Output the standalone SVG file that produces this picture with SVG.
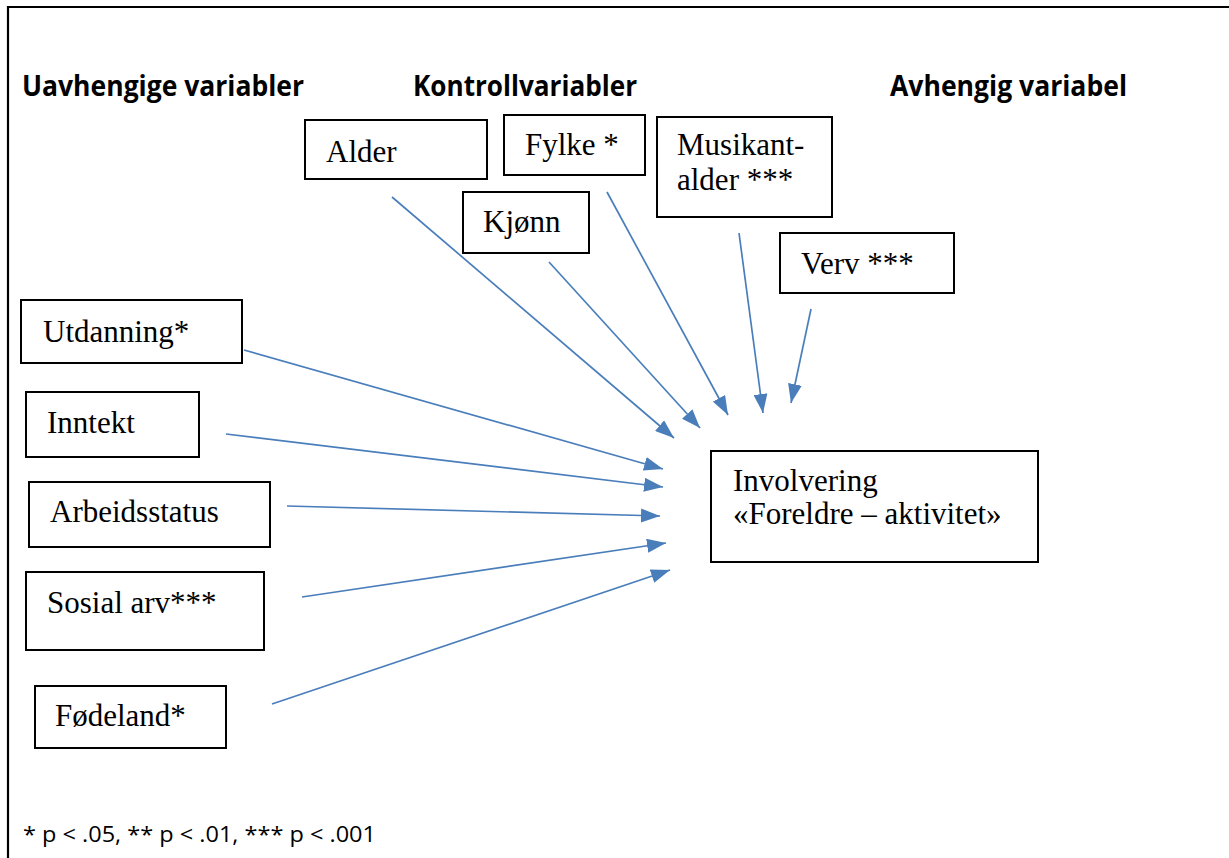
<svg xmlns="http://www.w3.org/2000/svg" width="1229" height="858" viewBox="0 0 1229 858">
<style>
.box{fill:#fff;stroke:#000;stroke-width:2}
.t{font-family:"Liberation Serif","Times New Roman",serif;font-size:31px;fill:#000}
.h{font-family:"Open Sans","Liberation Sans",sans-serif;font-weight:bold;font-size:28px;fill:#000}
.fn{font-family:"Open Sans","Liberation Sans",sans-serif;font-size:21px;fill:#000}
.c{stroke:#4a7ebb;stroke-width:1.7;fill:none;marker-end:url(#ah)}
</style>
<defs>
<marker id="ah" markerUnits="userSpaceOnUse" markerWidth="20" markerHeight="14" viewBox="0 0 20 14" refX="19" refY="7" orient="auto">
<path d="M0,0 L19,7 L0,14 Z" fill="#4a7ebb"/>
</marker>
</defs>
<rect x="0" y="0" width="1229" height="858" fill="#fff"/>
<g id="frame">
<path d="M8,858 L8,7 L1229,7" fill="none" stroke="#000" stroke-width="2.2"/>
</g>
<g id="headers">
<text class="h" x="22" y="96" textLength="282" lengthAdjust="spacingAndGlyphs">Uavhengige variabler</text>
<text class="h" x="413" y="96" textLength="224" lengthAdjust="spacingAndGlyphs">Kontrollvariabler</text>
<text class="h" x="890" y="96" textLength="237" lengthAdjust="spacingAndGlyphs">Avhengig variabel</text>
</g>
<g id="connectors">
<line class="c" x1="244" y1="350" x2="663" y2="469"/>
<line class="c" x1="226" y1="434" x2="663" y2="487"/>
<line class="c" x1="287" y1="506" x2="660" y2="516"/>
<line class="c" x1="302" y1="597" x2="666" y2="543"/>
<line class="c" x1="272" y1="704" x2="670" y2="570"/>
<line class="c" x1="392" y1="197" x2="674" y2="438"/>
<line class="c" x1="549" y1="262" x2="700" y2="428"/>
<line class="c" x1="607" y1="192" x2="728" y2="415"/>
<line class="c" x1="739" y1="233" x2="763" y2="413"/>
<line class="c" x1="811" y1="309" x2="791" y2="403"/>
</g>
<g id="alder"><rect class="box" x="305" y="120" width="182" height="59"/><text class="t" x="326" y="162">Alder</text></g>
<g id="fylke"><rect class="box" x="504" y="115" width="141" height="60"/><text class="t" x="525" y="155">Fylke *</text></g>
<g id="kjonn"><rect class="box" x="463" y="192" width="126" height="61"/><text class="t" x="483" y="232">Kjønn</text></g>
<g id="musikantalder"><rect class="box" x="657" y="117" width="175" height="100"/><text class="t" x="677" y="155">Musikant-</text><text class="t" x="677" y="190">alder ***</text></g>
<g id="verv"><rect class="box" x="780" y="233" width="174" height="60"/><text class="t" x="801" y="274">Verv ***</text></g>
<g id="utdanning"><rect class="box" x="21" y="300" width="221" height="63"/><text class="t" x="43" y="342">Utdanning*</text></g>
<g id="inntekt"><rect class="box" x="26" y="392" width="173" height="65"/><text class="t" x="47" y="433">Inntekt</text></g>
<g id="arbeidsstatus"><rect class="box" x="29" y="482" width="241" height="65"/><text class="t" x="50" y="522">Arbeidsstatus</text></g>
<g id="sosialarv"><rect class="box" x="26" y="572" width="238" height="78"/><text class="t" x="47" y="613">Sosial arv***</text></g>
<g id="fodeland"><rect class="box" x="35" y="686" width="191" height="62"/><text class="t" x="55" y="726">Fødeland*</text></g>
<g id="involvering"><rect class="box" x="711" y="451" width="327" height="111"/><text class="t" x="733" y="491">Involvering</text><text class="t" x="733" y="524">«Foreldre – aktivitet»</text></g>
<g id="footnote"><text class="fn" x="23" y="842" textLength="353" lengthAdjust="spacingAndGlyphs">* p &lt; .05, ** p &lt; .01, *** p &lt; .001</text></g>
</svg>
